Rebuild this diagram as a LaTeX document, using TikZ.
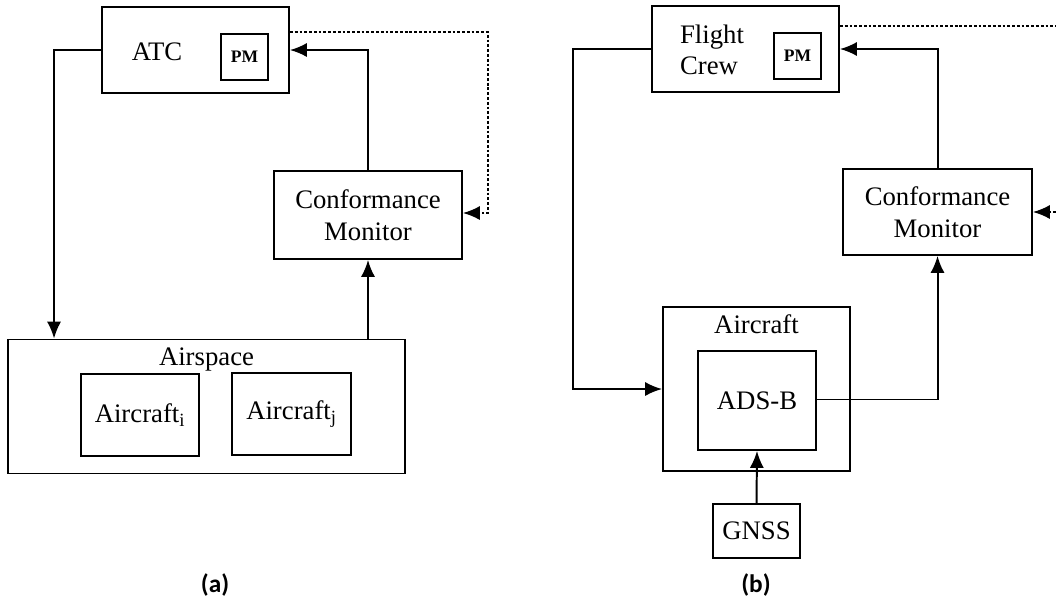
\documentclass[tikz,border=0pt]{standalone}
\usepackage{fontspec}
\setmainfont{Liberation Serif}
\newfontfamily\capfont{Carlito}
\usetikzlibrary{arrows.meta,calc}

\begin{document}
\begin{tikzpicture}[
        x=0.025cm, y=-0.025cm,
        block/.style={draw, line width=1.3pt, inner sep=0pt, font=\fontsize{19}{22.5}\selectfont},
        pmbox/.style={block, minimum width=1.175cm, minimum height=1.15cm, font=\fontsize{12.5}{14}\selectfont\bfseries},
        boxtext/.style={font=\fontsize{19}{22.5}\selectfont, inner sep=0pt},
        link/.style={-{Latex[length=12pt,width=10pt]}, line width=1.4pt},
        dotlink/.style={-{Latex[length=12pt,width=10pt]}, line width=1.3pt, dash pattern=on 2pt off 1.4pt},
        dotline/.style={line width=1.3pt, dash pattern=on 2pt off 1.4pt},
        caption/.style={font=\capfont\bfseries\fontsize{18}{20}\selectfont}
    ]
        \useasboundingbox (0,0) rectangle (1056,601);

        % (a) ATC loop
        \node[block, minimum width=4.675cm, minimum height=2.15cm] (atc) at (195.5,50) {};
        \node[boxtext] (atcname) at (157,52) {ATC};
        \node[pmbox] (pma) at (244.5,57) {PM};
        \node[block, minimum width=4.7cm, minimum height=2.2cm, align=center] (cma) at (368,215) {Conformance\\Monitor};
        \node[block, minimum width=9.925cm, minimum height=3.35cm,
              label={[boxtext, anchor=north, yshift=-0.22cm]north:Airspace}] (airspace) at (206.5,406.5) {};
        \node[block, minimum width=2.95cm, minimum height=2.05cm] (aci) at (140,415) {Aircraft\textsubscript{i}};
        \node[block, minimum width=2.975cm, minimum height=2.05cm] (acj) at (291.5,414) {Aircraft\textsubscript{j}};

        \draw[link] (atc.west) -| ($(airspace.north west)+(47,0)$);
        \draw[link] (cma.north) |- (atc.east);
        \draw[link] (airspace.north -| cma.south) -- (cma.south);
        \draw[dotlink] ($(atc.north east)+(0,26)$) -- ++(198,0) |- ($(cma.east)+(0,-2)$);
        \node[caption] (capa) at (215,585) {(a)};

        % (b) flight crew loop
        \node[block, minimum width=4.675cm, minimum height=2.15cm] (crew) at (745.5,49) {};
        \node[boxtext, align=left] (crewname) at (712,50) {Flight\\Crew};
        \node[pmbox] (pmb) at (797.5,56) {PM};
        \node[block, minimum width=4.725cm, minimum height=2.15cm, align=center] (cmb) at (937.5,212) {Conformance\\Monitor};
        \node[block, minimum width=4.675cm, minimum height=4.1cm,
              label={[boxtext, anchor=north, yshift=-0.2cm]north:Aircraft}] (acft) at (756.5,389) {};
        \node[block, minimum width=2.95cm, minimum height=2.475cm] (adsb) at (757,400.5) {ADS-B};
        \node[block, minimum width=2.175cm, minimum height=1.35cm] (gnss) at (756.5,531) {GNSS};
        \coordinate (rimtop) at (1056,26);
        \coordinate (rimmid) at (1056,212);

        \draw[link] (crew.west) -- ++(-78,0) |- (acft.west);
        \draw[link] (cmb.north) |- (crew.east);
        \draw[link] ($(adsb.east)+(0,-1)$) -| (cmb.south);
        \draw[link] (gnss.north) -- (adsb.south);
        \draw[dotline] (crew.east |- rimtop) -- (rimtop);
        \draw[dotlink] (rimmid) -- (cmb.east);
        \node[caption] (capb) at (756,585) {(b)};
    \end{tikzpicture}
\end{document}
